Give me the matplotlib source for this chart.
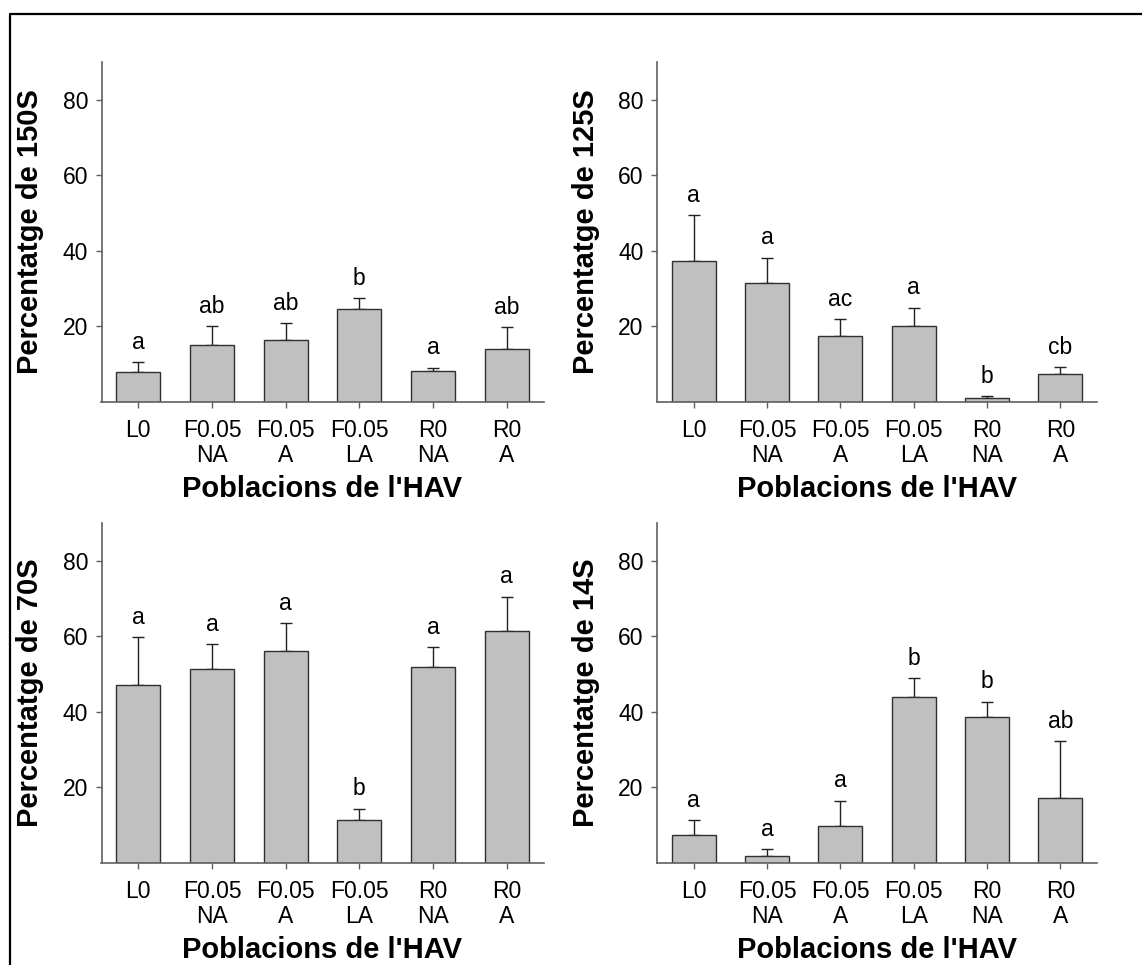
import matplotlib
matplotlib.use("Agg")
import matplotlib.pyplot as plt
from matplotlib.lines import Line2D
import numpy as np

plt.rcParams['font.family'] = ['Liberation Sans', 'DejaVu Sans']

# Poblacions i dades (mitjana, error superior) per a cada fracció
poblacions = ["L0", "F0.05\nNA", "F0.05\nA", "F0.05\nLA", "R0\nNA", "R0\nA"]

mitj_150S = [7.9, 15.0, 16.5, 24.5, 8.1, 14.0]
err_150S = [2.7, 5.0, 4.3, 3.0, 1.0, 5.8]
lletres_150S = ["a", "ab", "ab", "b", "a", "ab"]

mitj_125S = [37.4, 31.4, 17.6, 20.0, 1.1, 7.5]
err_125S = [12.1, 6.8, 4.4, 5.0, 0.45, 1.8]
lletres_125S = ["a", "a", "ac", "a", "b", "cb"]

mitj_70S = [47.2, 51.4, 56.0, 11.4, 52.0, 61.3]
err_70S = [12.7, 6.6, 7.5, 3.0, 5.1, 9.2]
lletres_70S = ["a", "a", "a", "b", "a", "a"]

mitj_14S = [7.3, 1.85, 9.7, 44.0, 38.7, 17.1]
err_14S = [4.0, 1.85, 6.8, 4.9, 4.0, 15.2]
lletres_14S = ["a", "a", "a", "b", "b", "ab"]

W, H = 1142, 965
fig = plt.figure(figsize=(W / 100, H / 100), dpi=100)

# Posicions dels quatre gràfics (en píxels: esquerra, dreta, dalt, baix)
caixes = [
    (101.5, 543.5, 62, 402),
    (657, 1097, 62, 402),
    (101.5, 543.5, 523, 863),
    (657, 1097, 523, 863),
]
panells = [
    (mitj_150S, err_150S, lletres_150S, "Percentatge de 150S"),
    (mitj_125S, err_125S, lletres_125S, "Percentatge de 125S"),
    (mitj_70S, err_70S, lletres_70S, "Percentatge de 70S"),
    (mitj_14S, err_14S, lletres_14S, "Percentatge de 14S"),
]

x = np.arange(len(poblacions))
gris_eix = "#606060"

for (x0, x1, y0, y1), (mitj, err, lletres, titol) in zip(caixes, panells):
    ax = fig.add_axes([x0 / W, 1 - y1 / H, (x1 - x0) / W, (y1 - y0) / H])
    ax.bar(x, mitj, width=0.6, color="#c0c0c0", edgecolor="#303030",
           linewidth=1.0, zorder=2)
    ax.errorbar(x, mitj, yerr=[np.zeros(len(err)), err], fmt="none",
                ecolor="#202020", elinewidth=1.0, capsize=4, capthick=1.0,
                zorder=1)
    for xi, m, e, l in zip(x, mitj, err, lletres):
        ax.annotate(l, (xi, m + e), xytext=(0, 9.5), textcoords="offset points",
                    ha="center", va="baseline", fontsize=16.5)
    ax.set_xlim(-0.5, 5.5)
    ax.set_ylim(0, 90)
    ax.set_yticks([20, 40, 60, 80])
    ax.set_xticks(x)
    ax.set_xticklabels(poblacions, fontsize=16.5, linespacing=1.1)
    ax.tick_params(axis="y", labelsize=16.5, length=4.1, width=1,
                   color=gris_eix, pad=5.5)
    ax.tick_params(axis="x", length=4.1, width=1, color=gris_eix, pad=8)
    for s in ("top", "right"):
        ax.spines[s].set_visible(False)
    for s in ("left", "bottom"):
        ax.spines[s].set_color(gris_eix)
        ax.spines[s].set_linewidth(1.2)
    ax.set_ylabel(titol, fontsize=21, fontweight="bold", va="center")
    ax.yaxis.set_label_coords(-0.161, 0.5)
    ax.set_xlabel("Poblacions de l'HAV", fontsize=21, fontweight="bold",
                  va="top")
    ax.xaxis.set_label_coords(0.5, -0.215)

# Marc negre exterior
fig.add_artist(Line2D([10 / W, 10 / W, 1], [0, 1 - 14 / H, 1 - 14 / H],
                      color="black", linewidth=1.6, transform=fig.transFigure))

fig.savefig("out.png", dpi=100, facecolor="white")
